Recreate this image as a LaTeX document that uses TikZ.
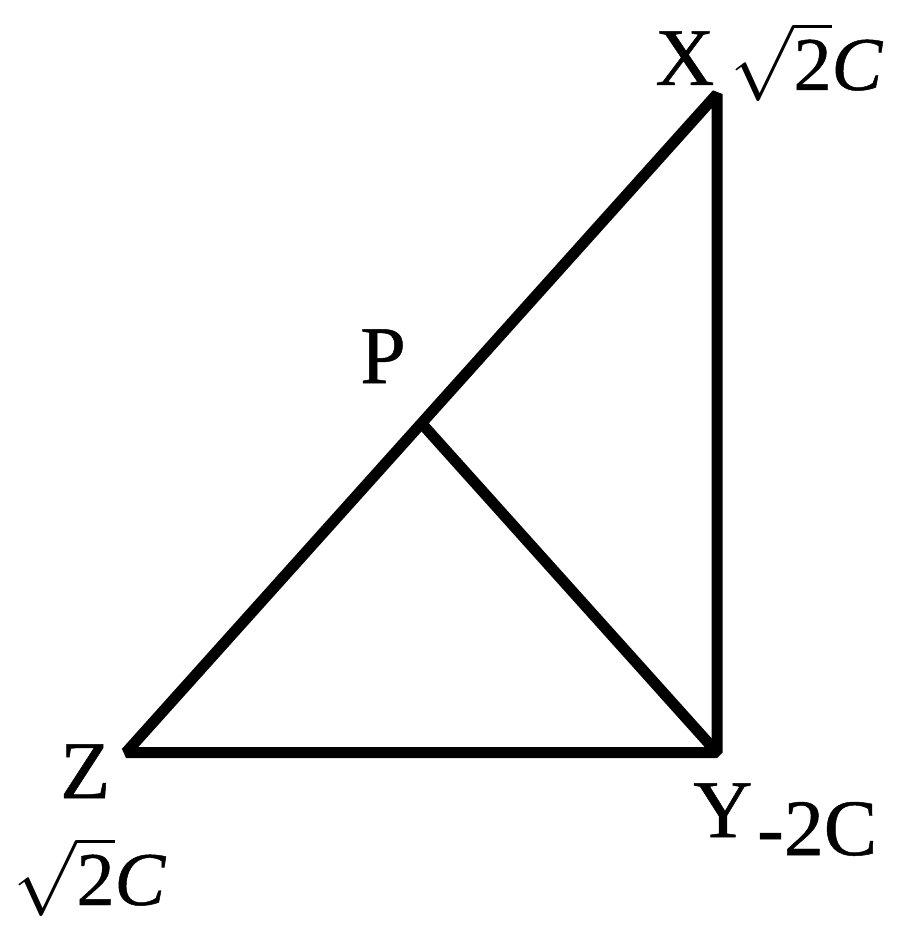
\documentclass[tikz,border=0pt]{standalone}
\usepackage{fix-cm}
\usepackage{fontspec}
\setmainfont{Liberation Serif}[FakeBold=0.6]
\usetikzlibrary{calc}
\begin{document}
\begin{tikzpicture}[x=1pt,y=-1pt]
\useasboundingbox (0,0) rectangle (900,931);
\tikzset{
  edge/.style={line width=11pt, line join=bevel},
  lab/.style={inner sep=0pt, anchor=base west},
  big/.style={font=\fontsize{82}{90}\selectfont},
  mid/.style={font=\fontsize{76}{84}\selectfont}
}
\coordinate (X) at (717,94);
\coordinate (Y) at (717,752.5);
\coordinate (Z) at (126,752.5);
\coordinate (P) at ($(Z)!0.5!(X)$);
\draw[edge] (X) -- (Y) -- (Z) -- cycle;
\draw[edge] (P) -- (Y);
\node[lab,big] (lx) at (655,85) {X};
\node[lab,mid] (sx) at (730,90) {$\smash{\sqrt{\mathrm{2}}}$\textit{C}};
\node[lab,big] (lp) at (360,383) {P};
\node[lab,big] (lz) at (60,798) {Z};
\node[lab,mid] (sz) at (13,905) {$\smash{\sqrt{\mathrm{2}}}$\textit{C}};
\node[lab,big] (ly) at (693,837) {Y};
\node[lab,mid,font=\fontsize{80}{88}\selectfont] (sy) at (757,855) {-2C};
\end{tikzpicture}
\end{document}
